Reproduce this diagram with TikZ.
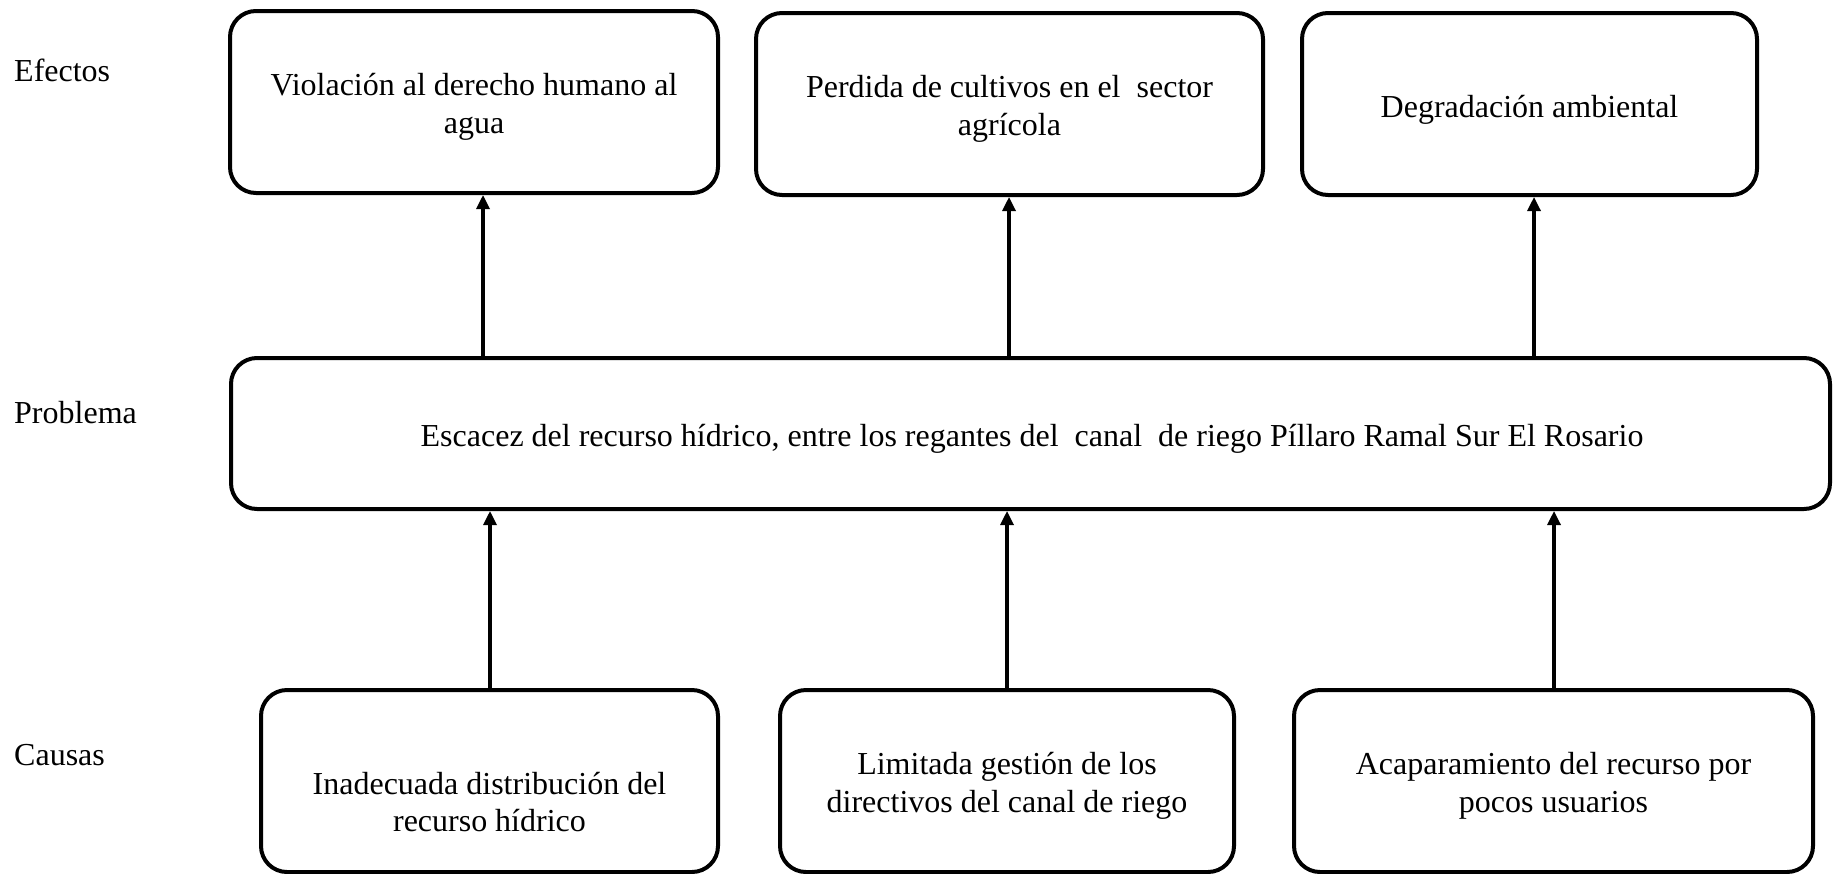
\documentclass[tikz,border=0pt]{standalone}
\usepackage{fontspec}
\setmainfont{Liberation Serif}
\usetikzlibrary{arrows.meta}
\tikzset{
  box/.style={draw=black, line width=4pt, rounded corners=26pt, inner sep=0pt},
  txt/.style={inner sep=0pt, align=center, font=\fontsize{32}{37.5}\selectfont},
  lbl/.style={inner sep=0pt, anchor=west, font=\fontsize{32}{37.5}\selectfont},
  arr/.style={draw=black, line width=3.2pt, -{Triangle[width=13pt,length=14pt]}}
}
\begin{document}
\begin{tikzpicture}[x=1pt,y=-1pt]
\useasboundingbox (0,0) rectangle (1833,873);
% labels
\node[lbl] (lefe) at (14,70) {Efectos};
\node[lbl] (lpro) at (14,413) {Problema};
\node[lbl] (lcau) at (14,755) {Causas};
% effects
\node[box, minimum width=488pt, minimum height=182pt] (e1) at (474,102) {};
\node[txt] (e1t) at (474,107) {Violación al derecho humano al\\agua};
\node[box, minimum width=507pt, minimum height=182pt] (e2) at (1009.5,104) {};
\node[txt] (e2t) at (1009.5,109) {Perdida de cultivos en el~ sector\\agrícola};
\node[box, minimum width=455pt, minimum height=182pt] (e3) at (1529.5,104) {};
\node[txt] (e3t) at (1529.5,110) {Degradación ambiental};
% problem
\node[box, minimum width=1599pt, minimum height=151pt] (p) at (1030.5,433.5) {};
\node[txt] (pt) at (1032,438.5) {Escacez del recurso hídrico, entre los regantes del~ canal~ de riego Píllaro Ramal Sur El Rosario};
% causes
\node[box, minimum width=457pt, minimum height=182pt] (c1) at (489.5,781) {};
\node[txt] (c1t) at (489.5,802) {Inadecuada distribución del\\recurso hídrico};
\node[box, minimum width=454pt, minimum height=182pt] (c2) at (1007,781) {};
\node[txt] (c2t) at (1007,786) {Limitada gestión de los\\directivos del canal de riego};
\node[box, minimum width=519pt, minimum height=182pt] (c3) at (1553.5,781) {};
\node[txt] (c3t) at (1553.5,786) {Acaparamiento del recurso por\\pocos usuarios};
% arrow columns
\coordinate (a1) at (483,0);
\coordinate (a2) at (1009,0);
\coordinate (a3) at (1534,0);
\coordinate (b1) at (490,0);
\coordinate (b2) at (1007,0);
\coordinate (b3) at (1554,0);
\draw[arr] (a1 |- p.north) -- (a1 |- e1.south);
\draw[arr] (a2 |- p.north) -- (a2 |- e2.south);
\draw[arr] (a3 |- p.north) -- (a3 |- e3.south);
\draw[arr] (b1 |- c1.north) -- (b1 |- p.south);
\draw[arr] (b2 |- c2.north) -- (b2 |- p.south);
\draw[arr] (b3 |- c3.north) -- (b3 |- p.south);
\end{tikzpicture}
\end{document}
